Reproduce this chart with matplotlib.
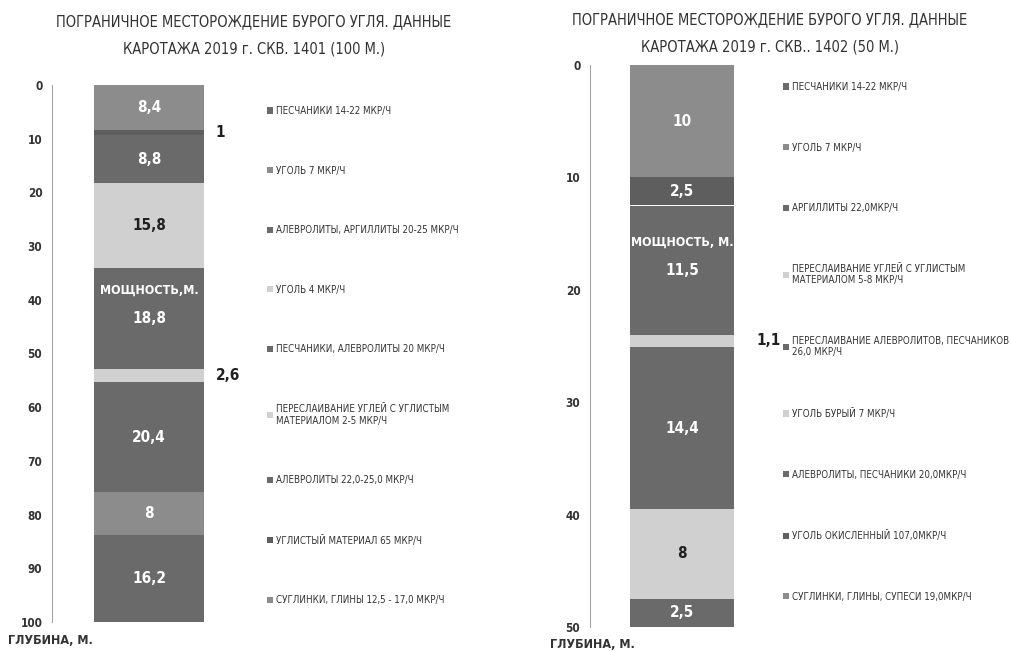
import matplotlib
matplotlib.use("Agg")
import matplotlib.pyplot as plt
import numpy as np
from matplotlib.patches import Patch

plt.rcParams['font.family'] = ['Liberation Sans Narrow', 'DejaVu Sans']
plt.rcParams['font.stretch'] = 'condensed'

# ---- data: well 1401 (series listed from surface downwards) ----
w1_labels = ["СУГЛИНКИ, ГЛИНЫ 12,5 - 17,0 МКР/Ч",
             "УГЛИСТЫЙ МАТЕРИАЛ 65 МКР/Ч",
             "АЛЕВРОЛИТЫ 22,0-25,0 МКР/Ч",
             "ПЕРЕСЛАИВАНИЕ УГЛЕЙ С УГЛИСТЫМ\nМАТЕРИАЛОМ 2-5 МКР/Ч",
             "ПЕСЧАНИКИ, АЛЕВРОЛИТЫ 20 МКР/Ч",
             "УГОЛЬ 4 МКР/Ч",
             "АЛЕВРОЛИТЫ, АРГИЛЛИТЫ 20-25 МКР/Ч",
             "УГОЛЬ 7 МКР/Ч",
             "ПЕСЧАНИКИ 14-22 МКР/Ч"]
w1_values = [8.4, 1, 8.8, 15.8, 18.8, 2.6, 20.4, 8, 16.2]
w1_colors = ["#8c8c8c", "#5e5e5e", "#6a6a6a", "#d0d0d0", "#6a6a6a",
             "#d0d0d0", "#6a6a6a", "#8c8c8c", "#6a6a6a"]

# ---- data: well 1402 ----
w2_labels = ["СУГЛИНКИ, ГЛИНЫ, СУПЕСИ 19,0МКР/Ч",
             "УГОЛЬ ОКИСЛЕННЫЙ 107,0МКР/Ч",
             "АЛЕВРОЛИТЫ, ПЕСЧАНИКИ 20,0МКР/Ч",
             "УГОЛЬ БУРЫЙ 7 МКР/Ч",
             "ПЕРЕСЛАИВАНИЕ АЛЕВРОЛИТОВ, ПЕСЧАНИКОВ\n26,0 МКР/Ч",
             "ПЕРЕСЛАИВАНИЕ УГЛЕЙ С УГЛИСТЫМ\nМАТЕРИАЛОМ 5-8 МКР/Ч",
             "АРГИЛЛИТЫ 22,0МКР/Ч",
             "УГОЛЬ 7 МКР/Ч",
             "ПЕСЧАНИКИ 14-22 МКР/Ч"]
w2_values = [10, 2.5, 11.5, 1.1, 14.4, 8, 2.5, 0, 0]
w2_colors = ["#8c8c8c", "#5e5e5e", "#6a6a6a", "#d0d0d0", "#6a6a6a",
             "#d0d0d0", "#6a6a6a", "#8c8c8c", "#6a6a6a"]

W, H = 1012, 651
fig = plt.figure(figsize=(W / 100, H / 100), dpi=100)
txtc = "#333333"


def fx(px):
    return px / W


def fy(py):
    return 1 - py / H


def draw(ax, values, colors, ymax, yticks, bw, outside, out_off, name_idx, name_text, light):
    bottom = 0.0
    for i, (v, c) in enumerate(zip(values, colors)):
        ax.bar(0, v, bottom=bottom, width=bw, color=c, edgecolor='none')
        if v > 0:
            mid = bottom + v / 2
            s = ("%g" % v).replace('.', ',')
            if i in outside:
                ax.text(bw / 2 + out_off, mid, s, ha='left', va='center', fontsize=11,
                        color='#202020', weight='bold', zorder=5)
            else:
                col = '#202020' if c in light else 'white'
                ax.text(0, mid, s, ha='center', va='center', fontsize=11, color=col,
                        weight='bold')
                if i == name_idx:
                    ax.annotate(name_text, (0, mid), xytext=(0, 20), textcoords='offset points',
                                ha='center', va='center', fontsize=9, color='white',
                                weight='bold')
        bottom += v
    ax.set_ylim(ymax, 0)
    ax.set_xlim(-1, 1)
    ax.set_yticks(yticks)
    ax.set_xticks([])
    for s in ['top', 'right', 'bottom']:
        ax.spines[s].set_visible(False)
    ax.spines['left'].set_color('#a6a6a6')
    ax.tick_params(axis='y', length=0, labelsize=8.5, labelcolor=txtc, pad=7)
    for t in ax.get_yticklabels():
        t.set_fontweight('bold')
    ax.patch.set_alpha(0)


light = {"#d0d0d0"}

# left chart
ax1 = fig.add_axes([fx(52), fy(622), fx(194), (622 - 85) / H])
draw(ax1, w1_values, w1_colors, 100, np.arange(0, 101, 10), 110 / 97,
     outside={1, 5}, out_off=0.12, name_idx=4, name_text="МОЩНОСТЬ,М.", light=light)
fig.text(fx(8), fy(641), "ГЛУБИНА, М.", fontsize=9, color=txtc, ha='left', va='center',
         weight='bold')
fig.text(fx(254), fy(35), "ПОГРАНИЧНОЕ МЕСТОРОЖДЕНИЕ БУРОГО УГЛЯ. ДАННЫЕ\nКАРОТАЖА 2019 г. СКВ. 1401 (100 М.)",
         ha='center', va='center', fontsize=10.5, color=txtc, linespacing=2.0)

# right chart
ax2 = fig.add_axes([fx(590), fy(627), fx(184), (627 - 65) / H])
ax2.set_zorder(3)
draw(ax2, w2_values, w2_colors, 50, np.arange(0, 51, 10), 104 / 92,
     outside={3}, out_off=0.24, name_idx=2, name_text="МОЩНОСТЬ, М.", light=light)
fig.text(fx(550), fy(645), "ГЛУБИНА, М.", fontsize=9, color=txtc, ha='left', va='center',
         weight='bold')
fig.text(fx(770), fy(33), "ПОГРАНИЧНОЕ МЕСТОРОЖДЕНИЕ БУРОГО УГЛЯ. ДАННЫЕ\nКАРОТАЖА 2019 г. СКВ.. 1402 (50 М.)",
         ha='center', va='center', fontsize=10.5, color=txtc, linespacing=2.0)


def legend(labels, colors, x, ytop, spacing):
    handles = [Patch(facecolor=c, edgecolor='none') for c in colors][::-1]
    labs = labels[::-1]
    leg = fig.legend(handles, labs, loc='upper left', bbox_to_anchor=(fx(x), fy(ytop)),
                     frameon=False, fontsize=7.0, handlelength=0.6, handleheight=0.6,
                     handletextpad=0.3, borderaxespad=0, borderpad=0,
                     labelspacing=spacing, labelcolor=txtc)
    return leg


legend(w1_labels, w1_colors, 267, 106, 5.1)
legend(w2_labels, w2_colors, 783, 82, 5.2)

fig.savefig("out.png", dpi=100)
